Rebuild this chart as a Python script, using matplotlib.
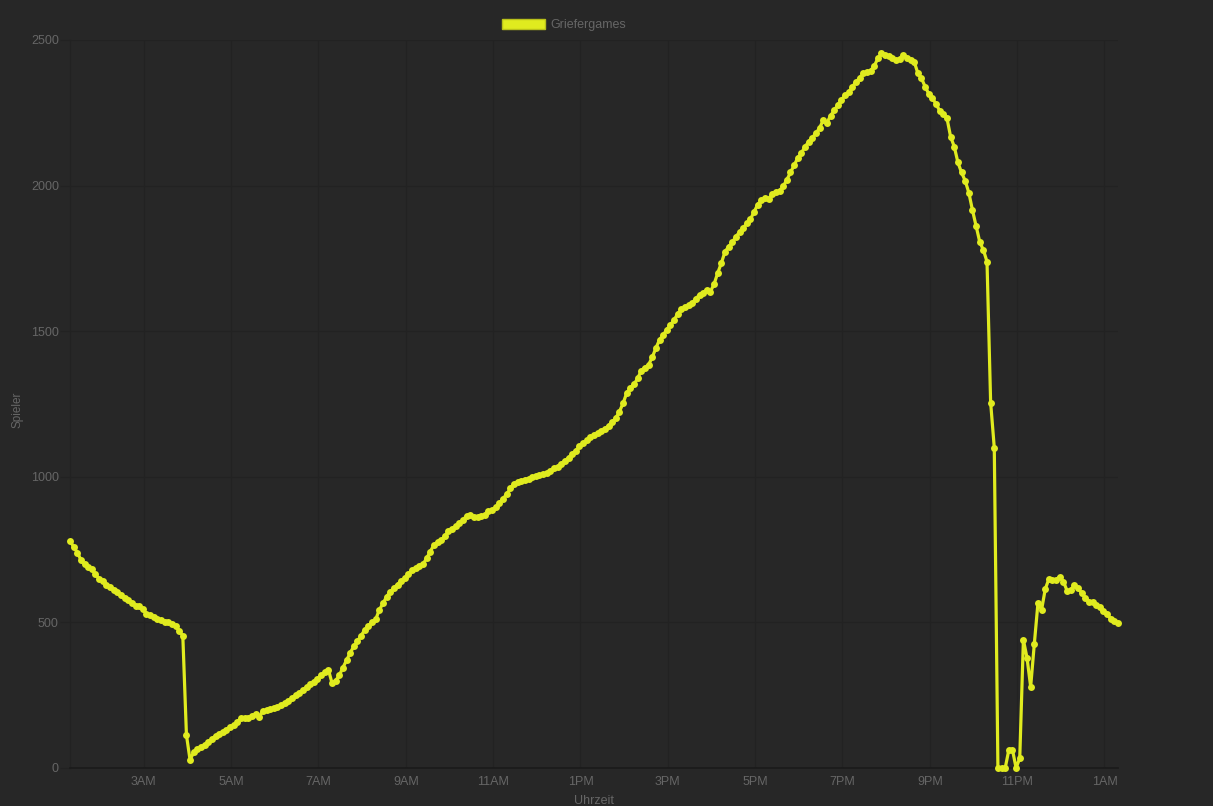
import numpy as np
import matplotlib
matplotlib.use("Agg")
import matplotlib.pyplot as plt

plt.rcParams['font.family'] = ['Liberation Sans', 'DejaVu Sans']

# Spielerzahlen alle 5 Minuten, Start ca. 01:18
night = [779, 760, 740, 715, 700, 690, 683, 665, 650, 643, 630, 622, 612, 603, 595, 585,
         577, 565, 557, 555, 545, 530, 525, 518, 512, 507, 503, 500, 495, 488, 470, 455]
early = [113, 27, 55, 65, 72, 80, 88, 100, 110, 118, 125, 132, 140, 148, 158, 170, 170, 172,
         180, 185, 176, 195, 198, 202, 205, 208, 215, 222, 230, 240, 250, 258, 268, 278, 287,
         297, 307, 318, 328, 338]
morning = [292, 300, 318, 345, 370, 395, 418, 435, 455, 474, 488, 500, 510, 543, 565, 588, 605,
           618, 630, 642, 652, 665, 680, 688, 695, 700, 720, 743, 766, 775, 783, 795, 815, 822,
           830, 840, 852, 866, 870, 862, 863, 866, 870, 883, 886, 895, 910, 925, 940, 960, 975,
           982, 986, 990, 994, 998, 1002, 1005, 1008, 1013, 1020, 1030, 1035, 1045, 1055, 1065,
           1078, 1090, 1105, 1115, 1125, 1135, 1143, 1150]
afternoon = [1158, 1165, 1175, 1188, 1202, 1224, 1253, 1288, 1305, 1318, 1338, 1365, 1375, 1385,
             1410, 1442, 1470, 1487, 1505, 1522, 1538, 1560, 1575, 1582, 1590, 1597, 1612, 1625,
             1632, 1642, 1636, 1662, 1700, 1734, 1773, 1790, 1805]
evening = [1825, 1840, 1855, 1870, 1885, 1910, 1935, 1950, 1958, 1955, 1972, 1978, 1982, 1998,
           2020, 2045, 2070, 2095, 2112, 2134, 2150, 2165, 2180, 2198, 2225, 2215, 2240, 2258,
           2277, 2295, 2310, 2320, 2340, 2355, 2370, 2386, 2390, 2395, 2410, 2437, 2454, 2450,
           2445, 2437, 2431, 2435, 2448, 2437, 2432, 2425]
late = [2386, 2368, 2340, 2315, 2300, 2280, 2257, 2246, 2231, 2168, 2134, 2080, 2045, 2017,
        1976, 1916, 1861, 1807, 1779, 1739, 1255, 1100]
restart = [0, 0, 0, 62, 62, 0, 34, 440, 378, 279, 426, 566, 543, 614, 649, 647, 647, 657, 640,
           609, 611, 628, 618, 601, 584, 571, 570, 560, 553, 540, 529, 512, 505, 498]

players = night + early + morning + afternoon + evening + late + restart

start_hour = 1.31         # ca. 01:18
step_hours = 5 / 60
hours = start_hour + np.arange(len(players)) * step_hours

tick_hours = [3, 5, 7, 9, 11, 13, 15, 17, 19, 21, 23, 25]
tick_labels = ['3AM', '5AM', '7AM', '9AM', '11AM', '1PM', '3PM', '5PM', '7PM', '9PM', '11PM', '1AM']
y_ticks = [0, 500, 1000, 1500, 2000, 2500]

bg = '#272727'
grid_col = '#222222'
text_col = '#666666'
line_col = '#e0eb1f'

fig = plt.figure(figsize=(12.13, 8.06), dpi=100, facecolor=bg)
ax = fig.add_axes([70 / 1213, 1 - 768 / 806, (1118 - 70) / 1213, (768 - 40) / 806])
ax.set_facecolor(bg)

ax.plot(hours, players, color=line_col, linewidth=2.3, marker='o', markersize=5,
        markeredgewidth=0, zorder=3, clip_on=False, label='Griefergames')

ax.set_xlim(hours[0], hours[-1])
ax.set_ylim(0, 2500)
ax.set_xticks(tick_hours)
ax.set_xticklabels(tick_labels)
ax.set_yticks(y_ticks)

ax.grid(True, color=grid_col, linewidth=1)
ax.set_axisbelow(True)
for s in ['top', 'right']:
    ax.spines[s].set_visible(False)
ax.spines['left'].set_color(grid_col)
ax.spines['bottom'].set_color('#1a1a1a')
ax.spines['bottom'].set_linewidth(1.2)

ax.tick_params(axis='y', colors=text_col, labelsize=9, length=7, width=1, pad=1,
               color=grid_col)
ax.tick_params(axis='x', colors=text_col, labelsize=9, length=0, pad=6)

fig.text(17 / 1213, 1 - 410 / 806, 'Spieler', rotation=90, color=text_col, fontsize=8.5,
         ha='center', va='center')
fig.text(594 / 1213, 1 - 801 / 806, 'Uhrzeit', color=text_col, fontsize=9,
         ha='center', va='center')

# Legende oben mittig
leg = fig.legend(handles=[matplotlib.patches.Patch(facecolor=line_col, edgecolor='#b8c01a')],
                 labels=['Griefergames'], loc='center', bbox_to_anchor=(564 / 1213, 1 - 25 / 806),
                 frameon=False, fontsize=9, handlelength=3.4, handleheight=0.95,
                 handletextpad=0.45)
for t in leg.get_texts():
    t.set_color(text_col)

fig.savefig('out.png', dpi=100, facecolor=bg)
